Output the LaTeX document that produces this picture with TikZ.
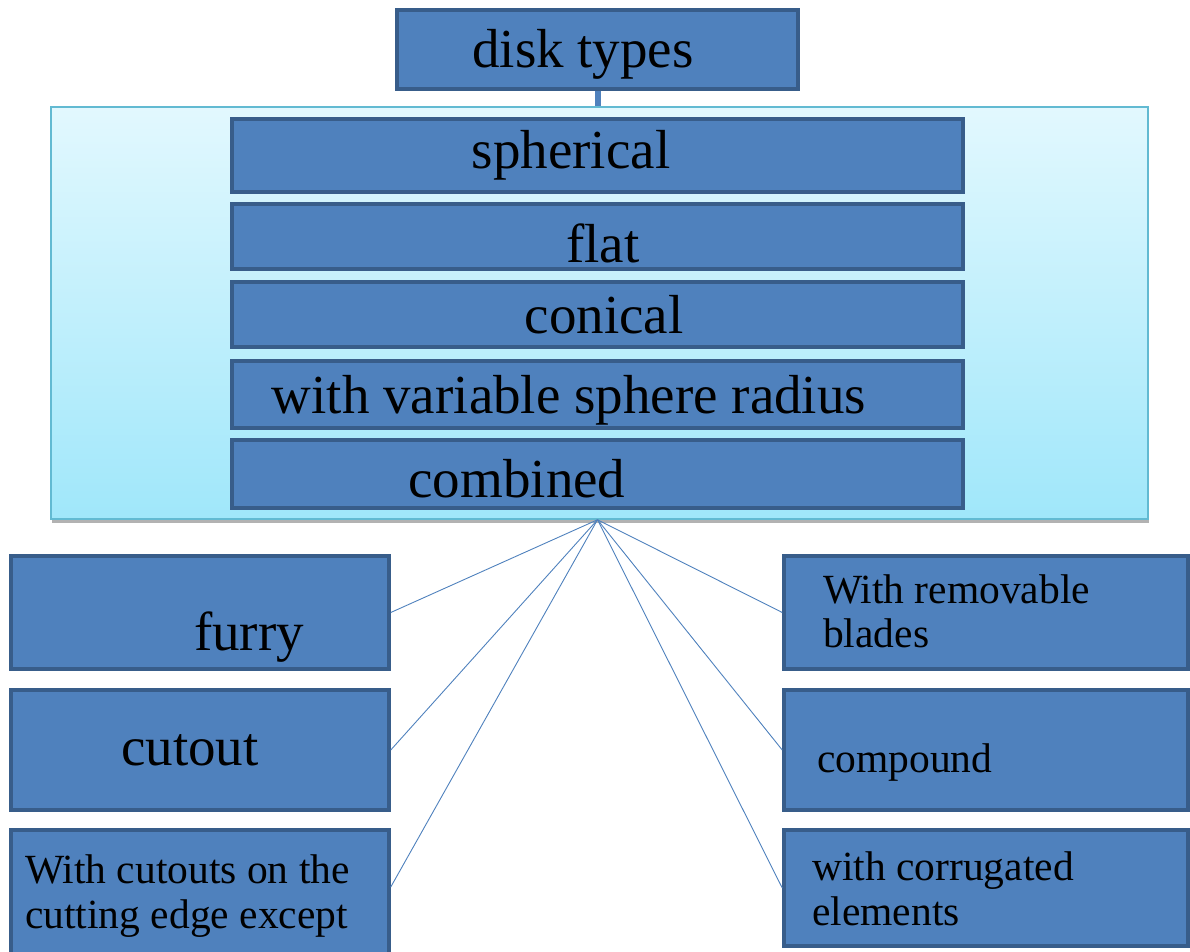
\documentclass[tikz,border=0pt]{standalone}
\usepackage{fontspec}
\setmainfont{Liberation Serif}

\definecolor{boxfill}{RGB}{79,129,189}
\definecolor{boxline}{RGB}{56,93,138}
\definecolor{panetop}{RGB}{226,248,254}
\definecolor{panebot}{RGB}{160,231,250}
\definecolor{paneline}{RGB}{98,186,210}

\begin{document}
\begin{tikzpicture}[x=1pt, y=-1pt, font=\fontsize{55}{60}\selectfont,
    tbox/.style={draw=boxline, fill=boxfill, line width=3.5pt, inner sep=0pt},
    big/.style={anchor=base, inner sep=0pt},
    small/.style={font=\fontsize{41.5}{45}\selectfont, anchor=base west, inner sep=0pt},
    link/.style={draw=boxfill, line width=0.9pt}]

    \useasboundingbox (0,0) rectangle (1190,952);

    % 1. Panel s gradientem (stin + obdelnik)
    \fill[gray!60] (52,111) rectangle (1149,523);
    \node[shade, top color=panetop, bottom color=panebot, draw=paneline,
          line width=1.5pt, minimum width=1097, minimum height=412, inner sep=0pt]
          (pane) at (599.5,313) {};

    % 2. Horni blok
    \node[tbox, minimum width=401, minimum height=79] (disk) at (597.5,49.5) {};
    \node[big] (disktxt) at (583,68) {disk types};
    \draw[boxfill, line width=6pt] (disk.south) -- (disk.south |- pane.north);

    % 3. Vnitrni bloky panelu
    \foreach \name/\yc/\h/\tx/\ty/\lab in {sph/155.5/73/571/169/spherical,
            flat/236.5/65/603/262/flat,
            con/314.5/65/604/333/conical,
            var/394.5/67/569/413/with variable sphere radius,
            comb/474/68/517/497/combined} {
        \node[tbox, minimum width=731, minimum height=\h] (\name) at (597.5,\yc) {};
        \node[big] (\name txt) at (\tx,\ty) {\lab};
    }

    % 4. Levy sloupec
    \node[tbox, minimum width=378, minimum height=113] (furry) at (200,612.5) {};
    \node[big] (furrytxt) at (249,650) {furry};
    \node[tbox, minimum width=378, minimum height=120] (cutout) at (200,750) {};
    \node[big] (cutouttxt) at (190,765) {cutout};
    \node[tbox, minimum width=378, minimum height=128] (edge) at (200,894) {};
    \node[small] (edgeA) at (25,883) {With cutouts on the};
    \node[small] (edgeB) at (25,928) {cutting edge except};

    % 5. Pravy sloupec
    \node[tbox, minimum width=404, minimum height=113] (blades) at (986,612.5) {};
    \node[small] (bladesA) at (823,603) {With removable};
    \node[small] (bladesB) at (823,647) {blades};
    \node[tbox, minimum width=404, minimum height=120] (compound) at (986,750) {};
    \node[small] (compoundtxt) at (817,772) {compound};
    \node[tbox, minimum width=404, minimum height=116] (corr) at (986,888) {};
    \node[small] (corrA) at (812,880) {with corrugated};
    \node[small] (corrB) at (812,925) {elements};

    % 6. Spojnice z panelu
    \coordinate (hub) at ([xshift=-2pt]pane.south);
    \foreach \t in {furry.east, cutout.east, blades.west, compound.west, corr.west} {
        \draw[link] (hub) -- (\t);
    }
    \draw[link] (hub) -- ([yshift=7pt]edge.east);

\end{tikzpicture}
\end{document}
